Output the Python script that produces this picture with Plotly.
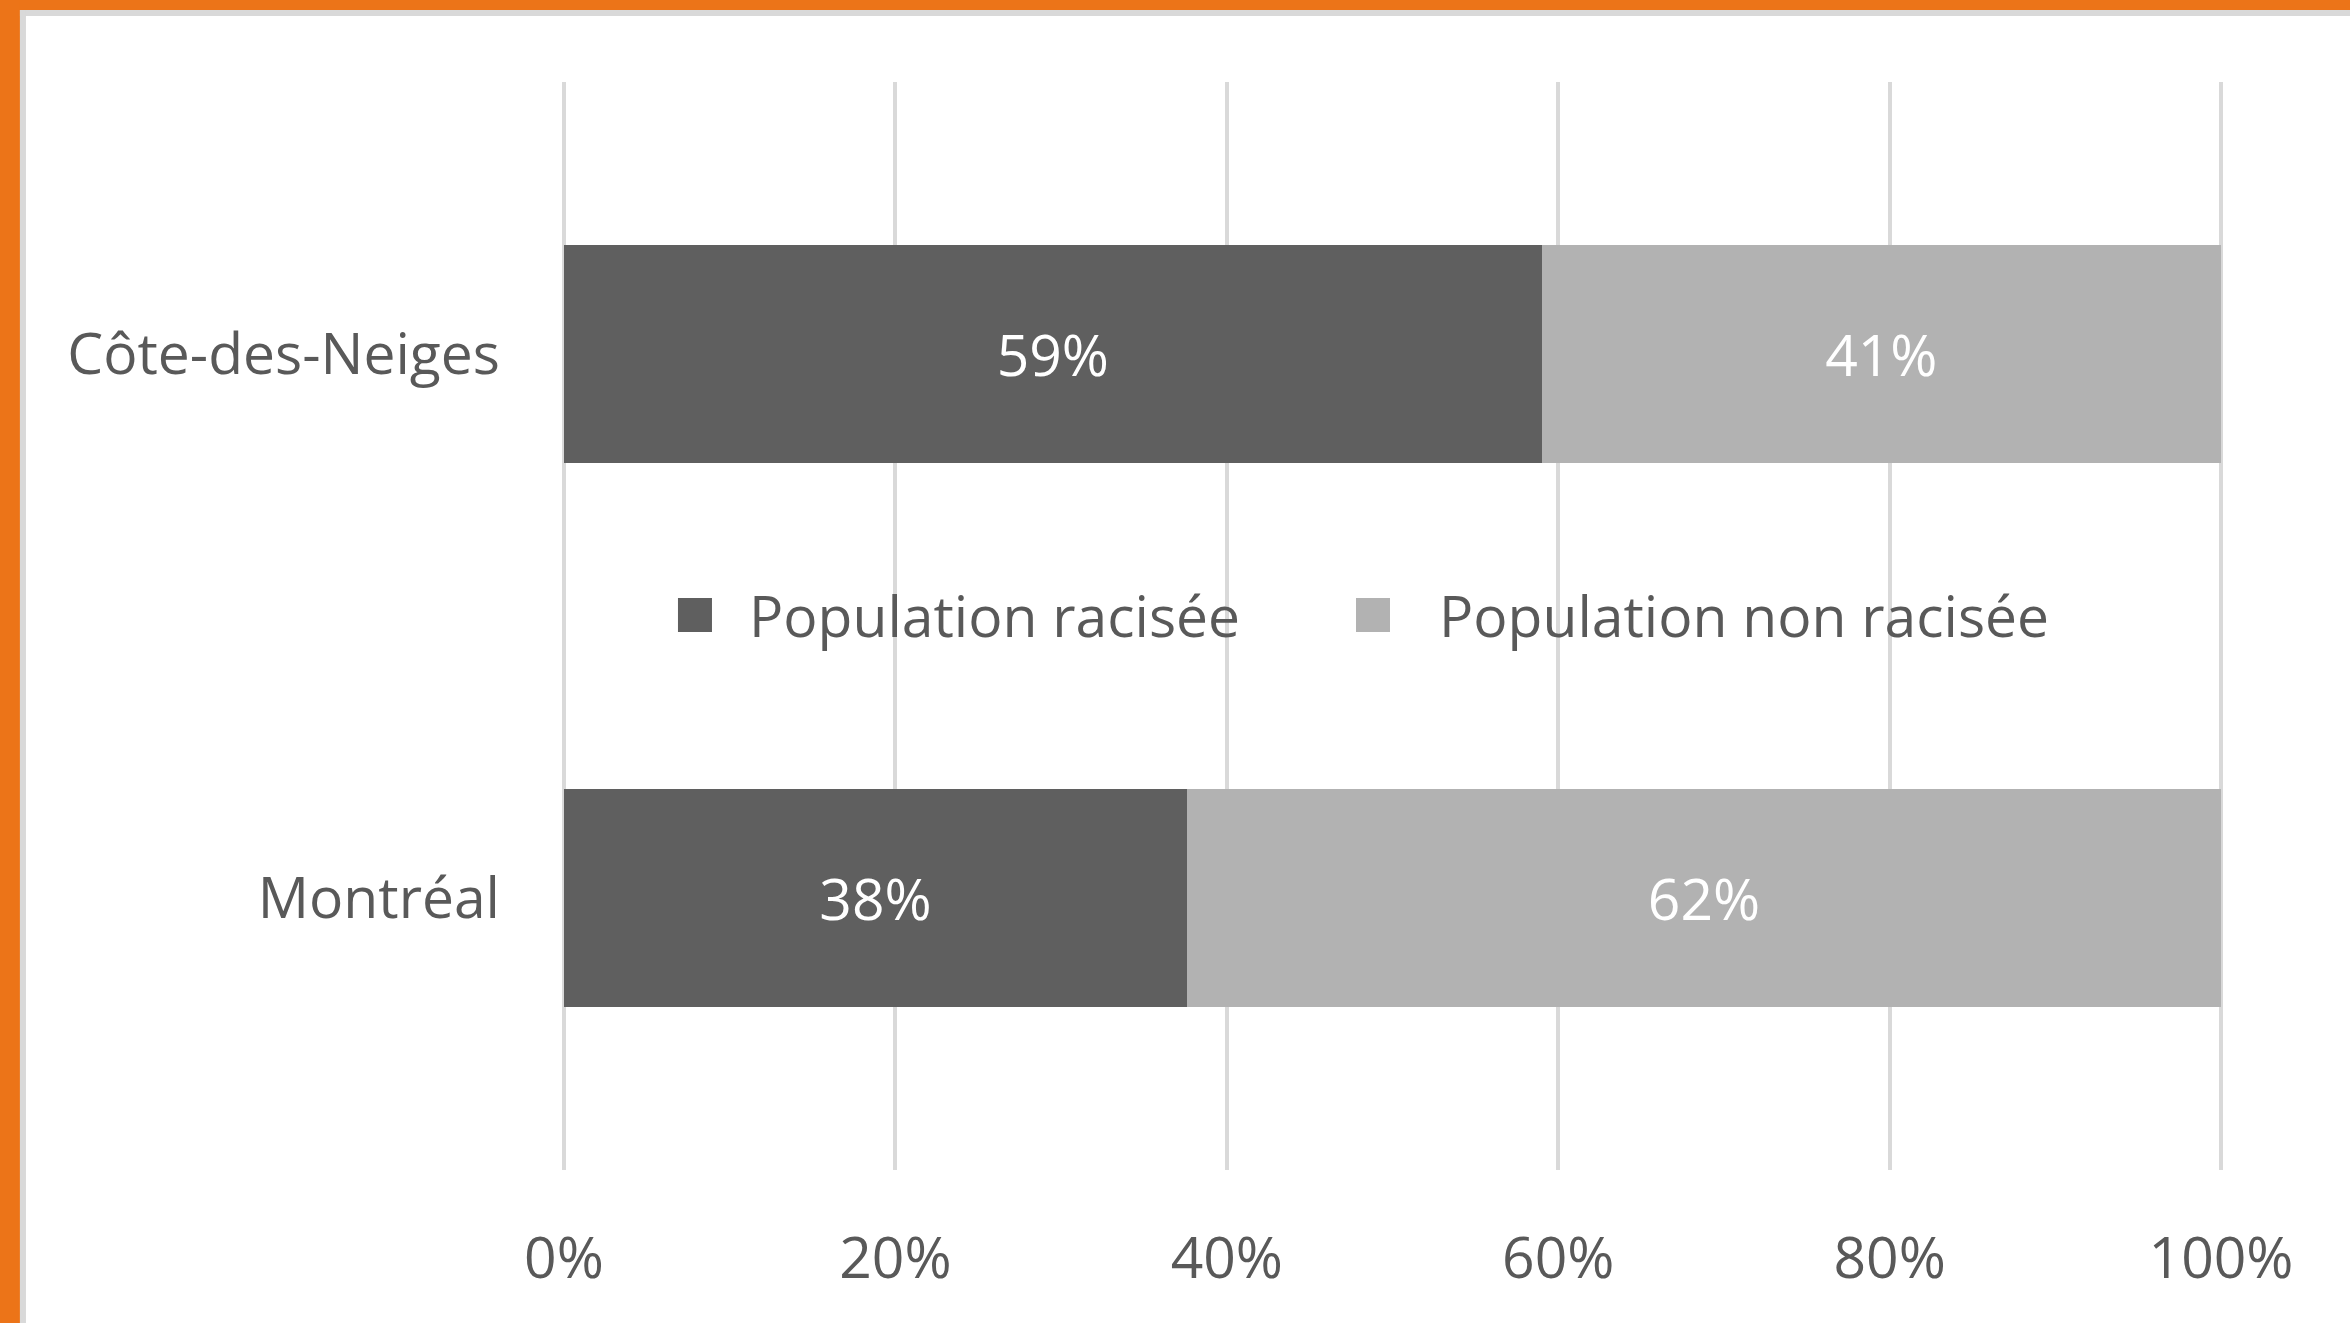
import plotly.graph_objects as go

categories = ["Côte-des-Neiges", "Montréal"]
racisee = [0.59, 0.376]
non_racisee = [0.41, 0.624]
series_names = ["Population racisée", "Population non racisée"]
series_colors = ["#5f5f5f", "#b2b2b2"]
tick_vals = [0, 0.2, 0.4, 0.6, 0.8, 1.0]
tick_text = ["0%", "20%", "40%", "60%", "80%", "100%"]

W, H = 2350, 1323
X0, X1 = 564, 2221          # pixel positions of 0% and 100%
T, B = 82, 153
E = 0.003                   # small range padding so edge gridlines show
SC = X1 - X0
L = X0 - SC * E
PW = SC * (1 + 2 * E)
R = W - L - PW
PH = H - T - B

FONT = "Open Sans"
TXT = "#595959"
FS = 57

fig = go.Figure()
for name, vals, col in zip(series_names, [racisee, non_racisee], series_colors):
    fig.add_trace(go.Bar(
        y=categories, x=vals, name=name, orientation="h",
        marker=dict(color=col, line=dict(width=0)),
        texttemplate="%{x:.0%}", textposition="inside",
        insidetextanchor="middle",
        textfont=dict(color="white", size=FS, family=FONT),
        hoverinfo="skip", showlegend=False,
    ))

def px_x(px):
    return (px - L) / PW

def px_y(py):
    return 1 - (py - T) / PH

shapes = [
    # orange frame
    dict(type="rect", xref="paper", yref="paper", x0=px_x(0), x1=px_x(W), y0=px_y(0), y1=px_y(10),
         fillcolor="#EC7418", line=dict(width=0), layer="above"),
    dict(type="rect", xref="paper", yref="paper", x0=px_x(0), x1=px_x(20), y0=px_y(0), y1=px_y(H),
         fillcolor="#EC7418", line=dict(width=0), layer="above"),
    # light gray inner border
    dict(type="rect", xref="paper", yref="paper", x0=px_x(20), x1=px_x(W), y0=px_y(10), y1=px_y(16),
         fillcolor="#D9D9D9", line=dict(width=0), layer="above"),
    dict(type="rect", xref="paper", yref="paper", x0=px_x(20), x1=px_x(26), y0=px_y(10), y1=px_y(H),
         fillcolor="#D9D9D9", line=dict(width=0), layer="above"),
]

# legend (drawn as squares + text, placed between the two bars)
LEG_Y = 615
legend_items = [(678, 747), (1356, 1437)]   # (square left px, text left px)
annotations = []
for (sq, tx), name, col in zip(legend_items, series_names, series_colors):
    shapes.append(dict(type="rect", xref="paper", yref="paper",
                       x0=px_x(sq), x1=px_x(sq + 34), y0=px_y(LEG_Y + 17), y1=px_y(LEG_Y - 17),
                       fillcolor=col, line=dict(width=0), layer="above"))
    annotations.append(dict(xref="paper", yref="paper", x=px_x(tx), y=px_y(LEG_Y),
                            xanchor="left", yanchor="middle", showarrow=False,
                            text=name, font=dict(size=FS, color=TXT, family=FONT)))

fig.update_layout(
    width=W, height=H,
    margin=dict(l=L, r=R, t=T, b=B, autoexpand=False),
    barmode="stack", bargap=0.6,
    paper_bgcolor="white", plot_bgcolor="white",
    font=dict(family=FONT, color=TXT, size=FS),
    showlegend=False,
    shapes=shapes,
    annotations=annotations,
    xaxis=dict(range=[-E, 1 + E], tickvals=tick_vals, ticktext=tick_text,
               showgrid=True, gridcolor="#D9D9D9", gridwidth=4,
               zeroline=False, showline=False, ticks="",
               ticklabelstandoff=50, tickfont=dict(size=FS, color=TXT, family=FONT)),
    yaxis=dict(categoryorder="array", categoryarray=categories, autorange="reversed",
               showgrid=False, zeroline=False, showline=False, ticks="",
               ticklabelstandoff=58, tickfont=dict(size=FS, color=TXT, family=FONT)),
)

fig.write_html("out.html",
               config={"displayModeBar": False},
               post_script="document.body.style.margin='0';document.body.style.overflow='hidden';")
